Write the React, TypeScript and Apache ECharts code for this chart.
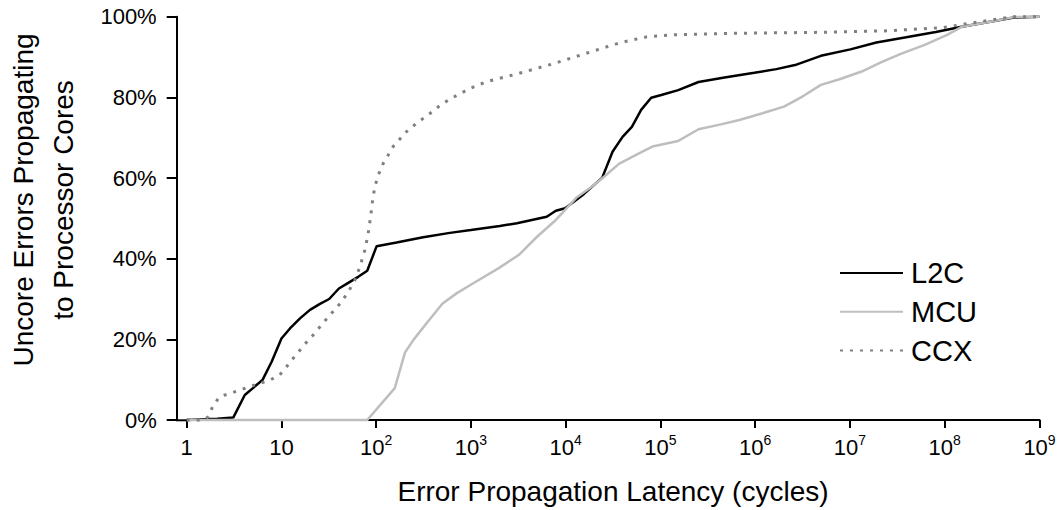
import React, { useEffect, useRef } from "react";
import * as echarts from "echarts";

// Error propagation latency (cycles) and cumulative share (%)
const l2cLatency = [1, 2.1, 3.1, 4.1, 5.0, 6.3, 7.9, 10, 12.3, 15.7, 20, 25.5, 31.9, 40.4, 50.7, 64.6, 80.4, 101, 164, 313, 599, 998, 2018, 3055, 6295, 7870, 9860, 15500, 24300, 31200, 39800, 49900, 62500, 79800, 102000, 154000, 252000, 474000, 977000, 1.67e6, 2.63e6, 4.93e6, 1.01e7, 1.9e7, 3.92e7, 8.05e7, 1.51e8, 3.12e8, 5.37e8, 1e9];
const l2cPct = [0, 0.3, 0.6, 6.2, 7.9, 9.9, 14.5, 20.2, 22.7, 25.2, 27.3, 28.8, 30.0, 32.6, 34.0, 35.5, 37.0, 43.1, 44.0, 45.3, 46.4, 47.1, 48.1, 48.8, 50.4, 51.9, 52.5, 56.0, 60.1, 66.5, 70.2, 72.7, 76.9, 79.9, 80.6, 81.8, 83.8, 84.9, 86.1, 87.0, 88.0, 90.3, 91.9, 93.6, 94.9, 96.2, 97.5, 98.8, 99.8, 100];

const mcuLatency = [1, 80.4, 157, 201, 246, 340, 502, 704, 1057, 1945, 3190, 5010, 7870, 12900, 18500, 25400, 36400, 54600, 82000, 154000, 252000, 434000, 680000, 1.17e6, 2.01e6, 3.15e6, 4.93e6, 7.76e6, 1.33e7, 2.09e7, 3.43e7, 6.15e7, 1.06e8, 1.51e8, 3.12e8, 5.37e8, 1e9];
const mcuPct = [0, 0, 7.9, 16.7, 19.8, 24.0, 28.9, 31.4, 33.9, 37.6, 40.9, 45.5, 49.6, 55.1, 57.7, 60.3, 63.5, 65.7, 67.8, 69.2, 72.1, 73.3, 74.4, 76.0, 77.7, 80.2, 83.1, 84.5, 86.4, 88.6, 90.8, 93.0, 95.5, 97.5, 98.8, 99.9, 100];

const ccxLatency = [1, 1.5, 1.69, 1.91, 2.24, 2.86, 3.65, 4.65, 5.93, 7.57, 9.6, 11.3, 13.3, 16.3, 19.2, 22.5, 26.5, 31.2, 36.6, 43.2, 51.9, 59.6, 67.3, 76, 82.4, 87.3, 91.6, 96.9, 105, 119, 134, 151, 209, 267, 369, 490, 649, 973, 1461, 3055, 7530, 18500, 38100, 71500, 135000, 680000, 4.12e6, 2.5e7, 9.6e7, 2.38e8, 5.37e8, 1e9];
const ccxPct = [0, 0, 0.8, 3.7, 5.8, 6.6, 7.4, 8.3, 9.1, 9.9, 11.2, 13.2, 15.3, 17.8, 19.8, 21.5, 23.6, 25.5, 27.4, 29.3, 32.2, 34.7, 38.0, 42.2, 46.3, 50.4, 54.5, 57.9, 60.7, 63.7, 65.7, 67.8, 71.5, 73.6, 76.0, 78.3, 80.0, 82.2, 83.9, 85.8, 88.4, 91.3, 93.6, 95.0, 95.5, 95.9, 96.1, 96.5, 97.3, 98.8, 100, 100];

const seriesNames = ["L2C", "MCU", "CCX"];
const yTicks = [0, 20, 40, 60, 80, 100];

const FONT = "'Liberation Sans', Arial, Helvetica, sans-serif";

const pairs = (xs: number[], ys: number[]) => xs.map((x, i) => [x, ys[i]]);

export default function App() {
  const ref = useRef<HTMLDivElement>(null);
  useEffect(() => {
    document.body.style.margin = "0";
    if (!ref.current) return;
    const chart = echarts.init(ref.current, undefined, { renderer: "svg" });
    const option: any = {
      animation: false,
      backgroundColor: "#fff",
      grid: { left: 186.7, right: 20.5, top: 16.7, bottom: 90, containLabel: false },
      legend: {
        orient: "vertical",
        left: 834,
        top: 253,
        itemWidth: 63,
        itemHeight: 14,
        itemGap: 8.75,
        data: seriesNames.map((n) => ({ name: n, itemStyle: { opacity: 0 } })),
        itemStyle: { opacity: 0 },
        textStyle: {
          fontFamily: FONT,
          fontSize: 29,
          lineHeight: 30,
          color: "#000",
          padding: [0, 0, 0, 3],
        },
      },
      xAxis: {
        type: "log",
        logBase: 10,
        min: 1,
        max: 1e9,
        splitNumber: 9,
        axisLine: { lineStyle: { color: "#000", width: 2 } },
        axisTick: { length: 8, lineStyle: { color: "#000", width: 2 } },
        minorTick: { show: false },
        splitLine: { show: false },
        axisLabel: {
          margin: 16,
          color: "#000",
          fontFamily: FONT,
          fontSize: 22,
          formatter: (v: number) => {
            const e = Math.round(Math.log10(v));
            if (e === 0) return "{b|1}";
            if (e === 1) return "{b|10}";
            return "{b|10}{s|" + e + "}";
          },
          rich: {
            b: { fontFamily: FONT, fontSize: 22, lineHeight: 22, color: "#000" },
            s: { fontFamily: FONT, fontSize: 14, lineHeight: 14, color: "#000", padding: [0, 0, 14, 0] },
          },
        },
      },
      yAxis: {
        type: "value",
        min: yTicks[0],
        max: yTicks[yTicks.length - 1],
        interval: 20,
        offset: 10,
        axisLine: { show: true, lineStyle: { color: "#000", width: 2 } },
        axisTick: { show: true, length: 10, lineStyle: { color: "#000", width: 2 } },
        splitLine: { show: false },
        axisLabel: {
          margin: 20,
          color: "#000",
          fontFamily: FONT,
          fontSize: 22,
          formatter: "{value}%",
        },
      },
      graphic: [
        {
          type: "line",
          shape: { x1: 176, y1: 420.3, x2: 188, y2: 420.3 },
          style: { stroke: "#000", lineWidth: 2 },
          z: 0,
        },
        {
          type: "text",
          x: 43,
          y: 200,
          rotation: Math.PI / 2,
          style: {
            text: "Uncore Errors Propagating\nto Processor Cores",
            font: "28px " + FONT,
            fill: "#000",
            align: "center",
            verticalAlign: "middle",
            lineHeight: 40,
          },
        },
        {
          type: "text",
          x: 613,
          y: 491,
          style: {
            text: "Error Propagation Latency (cycles)",
            font: "28px " + FONT,
            fill: "#000",
            align: "center",
            verticalAlign: "middle",
          },
        },
      ],
      series: [
        {
          name: "L2C",
          type: "line",
          symbol: "none",
          data: pairs(l2cLatency, l2cPct),
          lineStyle: { color: "#000", width: 2.5, cap: "butt" },
          itemStyle: { color: "#000" },
          clip: false,
        },
        {
          name: "MCU",
          type: "line",
          symbol: "none",
          data: pairs(mcuLatency, mcuPct),
          lineStyle: { color: "#bebebe", width: 2.5 },
          itemStyle: { color: "#bebebe" },
          clip: false,
        },
        {
          name: "CCX",
          type: "line",
          symbol: "none",
          data: pairs(ccxLatency, ccxPct),
          lineStyle: { color: "#808080", width: 3, type: [3, 7], cap: "butt" },
          itemStyle: { color: "#808080" },
          clip: false,
        },
      ],
    };
    chart.setOption(option);
    return () => chart.dispose();
  }, []);
  return <div ref={ref} style={{ width: 1060, height: 510 }} />;
}
